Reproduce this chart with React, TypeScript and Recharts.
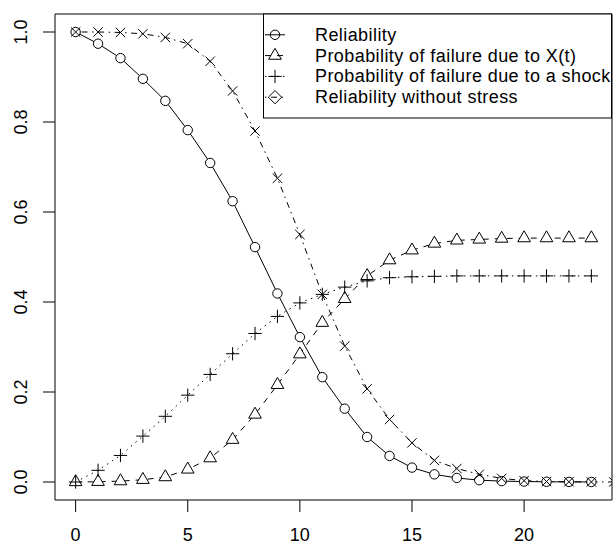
import { LineChart, Line, XAxis, YAxis, ReferenceArea } from "recharts";

// time points (the last one only carries the "without stress" curve)
const TIME = [0, 1, 2, 3, 4, 5, 6, 7, 8, 9, 10, 11, 12, 13, 14, 15, 16, 17, 18, 19, 20, 21, 22, 23, 24];

const RELIABILITY = [
  1.0, 0.974, 0.942, 0.896, 0.847, 0.782, 0.709, 0.624, 0.522, 0.419, 0.322, 0.233,
  0.163, 0.1, 0.058, 0.032, 0.017, 0.009, 0.004, 0.002, 0.001, 0.0005, 0.0002, 0.0001,
];
const FAIL_X = [
  0, 0.0005, 0.002, 0.005, 0.011, 0.028, 0.053, 0.094, 0.15, 0.216, 0.284, 0.354,
  0.407, 0.458, 0.493, 0.515, 0.53, 0.537, 0.539, 0.541, 0.542, 0.542, 0.542, 0.542,
];
const FAIL_SHOCK = [
  0, 0.026, 0.059, 0.102, 0.146, 0.193, 0.239, 0.285, 0.33, 0.368, 0.398, 0.417,
  0.433, 0.447, 0.454, 0.456, 0.457, 0.458, 0.458, 0.458, 0.458, 0.458, 0.458, 0.458,
];
const NO_STRESS = [
  1.0, 1.0, 0.999, 0.996, 0.988, 0.974, 0.935, 0.869, 0.78, 0.675, 0.55, 0.417, 0.302,
  0.207, 0.139, 0.087, 0.048, 0.03, 0.017, 0.008, 0.003, 0.001, 0.0005, 0.0002, 0.0001,
];

const X_TICKS = [0, 5, 10, 15, 20];
const Y_TICKS = [0, 0.2, 0.4, 0.6, 0.8, 1.0];

const LEGEND_LABELS = [
  "Reliability",
  "Probability of failure due to X(t)",
  "Probability of failure due to a shock",
  "Reliability without stress",
];

const FONT = "'Liberation Sans', Arial, Helvetica, sans-serif";
const S = 4.7; // R symbol radius
const DASHED = "6 6";
const DOTTED = "1.5 4.5";
const DOTDASH = "1.5 4.5 6 4.5";

const rows = TIME.map((t, i) => ({
  t,
  rel: RELIABILITY[i] ?? null,
  fx: FAIL_X[i] ?? null,
  fs: FAIL_SHOCK[i] ?? null,
  ns: NO_STRESS[i] ?? null,
}));

function ok(p: any) {
  return p.cx != null && p.cy != null && !isNaN(p.cx) && !isNaN(p.cy);
}

function circleAt(x: number, y: number, fill: string, key?: string) {
  return <circle key={key} cx={x} cy={y} r={S} fill={fill} stroke="#000" strokeWidth={1} />;
}
function triangleAt(x: number, y: number, fill: string, key?: string) {
  const r = 1.555 * S;
  const yc = 0.7776 * S;
  const xc = 1.3468 * S;
  return (
    <polygon
      key={key}
      points={`${x},${y - r} ${x + xc},${y + yc} ${x - xc},${y + yc}`}
      fill={fill}
      stroke="#000"
      strokeWidth={1}
    />
  );
}
function plusAt(x: number, y: number, key?: string) {
  const d = 1.414 * S;
  return (
    <path key={key} d={`M${x - d},${y}H${x + d}M${x},${y - d}V${y + d}`} stroke="#000" strokeWidth={1} fill="none" />
  );
}
function crossAt(x: number, y: number, key?: string) {
  const d = S;
  return (
    <path
      key={key}
      d={`M${x - d},${y - d}L${x + d},${y + d}M${x - d},${y + d}L${x + d},${y - d}`}
      stroke="#000"
      strokeWidth={1}
      fill="none"
    />
  );
}
function diamondAt(x: number, y: number, key?: string) {
  const d = 1.414 * S;
  return (
    <polygon
      key={key}
      points={`${x},${y - d} ${x + d},${y} ${x},${y + d} ${x - d},${y}`}
      fill="none"
      stroke="#000"
      strokeWidth={1}
    />
  );
}

const CircleDot = (p: any) => (ok(p) ? circleAt(p.cx, p.cy, "#fff", `c${p.index}`) : <g key={`c${p.index}`} />);
const TriDot = (p: any) => (ok(p) ? triangleAt(p.cx, p.cy, "#fff", `t${p.index}`) : <g key={`t${p.index}`} />);
const PlusDot = (p: any) => (ok(p) ? plusAt(p.cx, p.cy, `p${p.index}`) : <g key={`p${p.index}`} />);
const CrossDot = (p: any) => (ok(p) ? crossAt(p.cx, p.cy, `x${p.index}`) : <g key={`x${p.index}`} />);

function YTick(props: any) {
  const { y, payload } = props;
  const bx = 27;
  return (
    <text
      x={bx}
      y={y}
      transform={`rotate(-90 ${bx} ${y})`}
      textAnchor="middle"
      fontSize={18}
      fontFamily={FONT}
      fill="#000"
    >
      {Number(payload.value).toFixed(1)}
    </text>
  );
}

function LegendBox() {
  const left = 263;
  const top = 14;
  const right = 612;
  const step = 20.8;
  const dashes = [undefined, DASHED, DOTTED, DOTDASH];
  return (
    <svg width={616} height={548} style={{ position: "absolute", left: 0, top: 0, pointerEvents: "none" }}>
      <defs>
        <clipPath id="legclip">
          <rect x={left} y={top} width={right - left} height={104} />
        </clipPath>
      </defs>
      <rect x={left + 0.5} y={top} width={right - left - 1} height={104} fill="#fff" stroke="#000" strokeWidth={1} />
      {LEGEND_LABELS.map((label, i) => {
        const cy = top + 20.8 + i * step;
        const mx = 275;
        return (
          <g key={label}>
            <line x1={265} x2={285} y1={cy} y2={cy} stroke="#000" strokeWidth={1} strokeDasharray={dashes[i]} />
            {i === 0 && circleAt(mx, cy, "none")}
            {i === 1 && triangleAt(mx, cy, "none")}
            {i === 2 && plusAt(mx, cy)}
            {i === 3 && diamondAt(mx, cy)}
            <text
              x={315}
              y={cy}
              dominantBaseline="central"
              fontSize={18}
              letterSpacing={0.42}
              fontFamily={FONT}
              fill="#000"
              clipPath="url(#legclip)"
            >
              {label}
            </text>
          </g>
        );
      })}
    </svg>
  );
}

export default function App() {
  return (
    <div style={{ position: "absolute", left: 0, top: 0, width: 616, height: 548, background: "#fff" }}>
      <LineChart width={616} height={548} data={rows} margin={{ top: 14, right: 4, bottom: 0, left: 0 }}>
        <XAxis
          dataKey="t"
          type="number"
          domain={[-0.92, 23.92]}
          allowDataOverflow
          ticks={X_TICKS}
          interval={0}
          height={48}
          tickSize={12}
          tickMargin={16}
          axisLine={false}
          tickLine={{ stroke: "#000" }}
          tick={{ fill: "#000", fontSize: 18, fontFamily: FONT }}
        />
        <YAxis
          type="number"
          domain={[-0.04, 1.04]}
          allowDataOverflow
          ticks={Y_TICKS}
          interval={0}
          width={55}
          tickSize={12}
          axisLine={false}
          tickLine={{ stroke: "#000" }}
          tick={<YTick />}
        />
        <ReferenceArea
          x1={-0.92}
          x2={23.92}
          y1={-0.04}
          y2={1.04}
          fill="none"
          stroke="#000"
          strokeWidth={1}
          ifOverflow="visible"
        />
        <Line dataKey="rel" stroke="#000" strokeWidth={1} dot={CircleDot} isAnimationActive={false} connectNulls={false} />
        <Line
          dataKey="fx"
          stroke="#000"
          strokeWidth={1}
          strokeDasharray={DASHED}
          dot={TriDot}
          isAnimationActive={false}
        />
        <Line
          dataKey="fs"
          stroke="#000"
          strokeWidth={1}
          strokeDasharray={DOTTED}
          dot={PlusDot}
          isAnimationActive={false}
        />
        <Line
          dataKey="ns"
          stroke="#000"
          strokeWidth={1}
          strokeDasharray={DOTDASH}
          dot={CrossDot}
          isAnimationActive={false}
        />
      </LineChart>
      <LegendBox />
    </div>
  );
}
